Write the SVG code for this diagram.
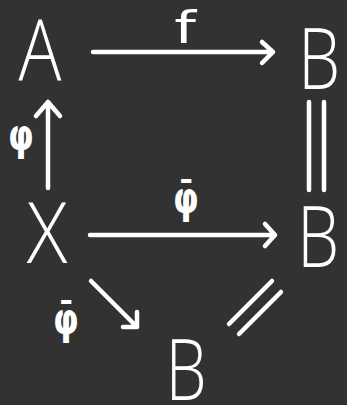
<svg xmlns="http://www.w3.org/2000/svg" width="347" height="405" viewBox="0 0 347 405">
<style>
.obj{font-family:"Open Sans","Liberation Sans",sans-serif;font-weight:300;font-size:84px;fill:#fff;text-anchor:middle}
.lbl{font-family:"DejaVu Sans","Liberation Sans",sans-serif;font-weight:bold;font-size:44px;fill:#fff;text-anchor:middle}
.ln{stroke:#fff;stroke-width:4.5;stroke-linecap:round;stroke-linejoin:round;fill:none}
</style>
<rect width="347" height="405" fill="#323232"/>
<g id="A"><text class="obj" x="40" y="80" font-size="80" transform="translate(40 0) scale(0.85 1) translate(-40 0)">A</text></g>
<g id="B1"><text class="obj" x="319" y="89" transform="translate(319 0) scale(0.8 1) translate(-319 0)">B</text></g>
<g id="X"><text class="obj" x="47" y="263" font-size="80" transform="translate(47 0) scale(0.9 1) translate(-47 0)">X</text></g>
<g id="B2"><text class="obj" x="318" y="267" transform="translate(318 0) scale(0.8 1) translate(-318 0)">B</text></g>
<g id="B3"><text class="obj" x="186" y="400" font-size="82" transform="translate(186 0) scale(0.78 1) translate(-186 0)">B</text></g>
<g id="connectors">
<path class="ln" d="M93 52H273M262 42L273 52L262 63"/>
<path class="ln" d="M48 188V102M36 116L48 102L60 116"/>
<path class="ln" d="M309 102V190M324 102V190"/>
<path class="ln" d="M90 235H275M265 224L275 235L265 246"/>
<path class="ln" d="M91 281L136 326M123 327H137V312"/>
<path class="ln" d="M229 324L272 281M239 334L281 292"/>
<text class="lbl" x="185" y="43" font-size="46" style="font-weight:normal" transform="translate(185 0) scale(1.4 1) translate(-185 0)">f</text>
<text class="lbl" x="21" y="150" transform="translate(21 0) scale(0.75 1) translate(-21 0)">φ</text>
<text class="lbl" x="186" y="213" transform="translate(186 0) scale(0.75 1) translate(-186 0)">φ̄</text>
<text class="lbl" x="66" y="334" transform="translate(66 0) scale(0.75 1) translate(-66 0)">φ̄</text>
</g>
</svg>
